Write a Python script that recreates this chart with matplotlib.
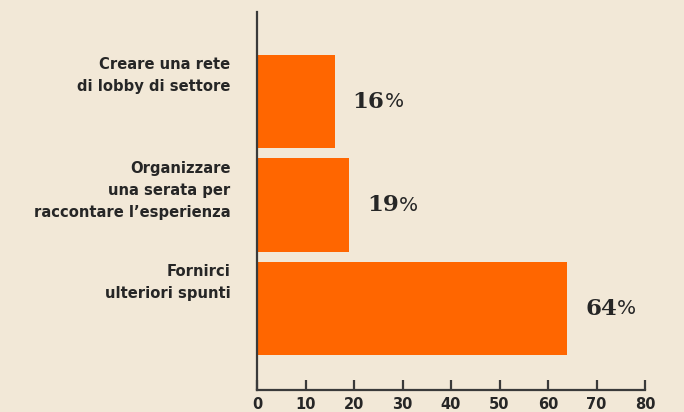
import matplotlib
matplotlib.use("Agg")
import matplotlib.pyplot as plt

categories = ["Creare una rete\ndi lobby di settore",
              "Organizzare\nuna serata per\nraccontare l’esperienza",
              "Fornirci\nulteriori spunti"]
values = [16, 19, 64]
xticks = [0, 10, 20, 30, 40, 50, 60, 70, 80]

BG = "#F2E8D7"
BAR = "#FF6600"
TXT = "#262626"
AX = "#3a3a3a"

fig = plt.figure(figsize=(6.84, 4.12), dpi=100, facecolor=BG)
ax = fig.add_axes([257/684, 22/412, 388/684, 378/412], facecolor=BG)

pos = list(range(len(categories)))
h = 0.9
ax.barh(pos, values, height=h, color=BAR, zorder=2)
ax.set_xlim(0, 80)
ax.set_ylim(2 + 0.787, -0.865)

for s in ["top", "right"]:
    ax.spines[s].set_visible(False)
for s in ["left", "bottom"]:
    ax.spines[s].set_color(AX)
    ax.spines[s].set_linewidth(1.6)

ax.set_yticks([])
ax.set_xticks(xticks)
ax.set_xticklabels([str(t) for t in xticks], fontfamily="DejaVu Sans",
                   fontweight="bold", fontsize=10.5, color=TXT)
ax.tick_params(axis="x", direction="in", length=7, width=1.6, color=AX, pad=5)

for p, cat, v in zip(pos, categories, values):
    ax.annotate(cat, xy=(0, p - h/2), xycoords="data",
                xytext=(-19, -1.5), textcoords="offset points",
                ha="right", va="top", fontfamily="DejaVu Sans", fontweight="bold",
                fontsize=10.6, color=TXT, linespacing=1.6)
    t = ax.annotate(f"{v}", xy=(v, p), xycoords="data",
                    xytext=(13, 0), textcoords="offset points",
                    ha="left", va="center", fontfamily="DejaVu Serif",
                    fontweight="bold", fontsize=16.5, color=TXT)
    fig.canvas.draw()
    bb = t.get_window_extent()
    fig.text(bb.x1 / fig.dpi / 6.84, (bb.y0 + bb.y1) / 2 / fig.dpi / 4.12, "%",
             ha="left", va="center", fontfamily="DejaVu Sans", fontsize=14.5, color=TXT)

fig.savefig("out.png", dpi=100, facecolor=BG)
